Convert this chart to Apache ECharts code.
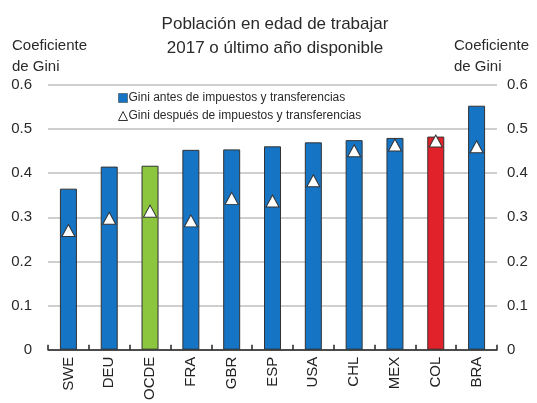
<!DOCTYPE html>
<html>
<head>
<meta charset="utf-8">
<script src="https://cdn.jsdelivr.net/npm/echarts@6/dist/echarts.min.js"></script>
<style>
html,body{margin:0;padding:0;background:#fff;}
#chart{width:537px;height:403px;}
</style>
</head>
<body>
<div id="chart"></div>
<script>
var categories = ['SWE','DEU','OCDE','FRA','GBR','ESP','USA','CHL','MEX','COL','BRA'];
var giniBefore = [0.365,0.415,0.417,0.453,0.454,0.461,0.470,0.475,0.480,0.483,0.553];
var giniAfter = [0.270,0.298,0.314,0.292,0.343,0.337,0.383,0.451,0.464,0.473,0.460];
var yTicks = [0,0.1,0.2,0.3,0.4,0.5,0.6];

var BLUE = '#1574c4', GREEN = '#8cc63e', RED = '#e1222a';
var font = 'Liberation Sans, Arial, sans-serif';

var chart = echarts.init(document.getElementById('chart'), null, {renderer:'canvas'});
function fmt(v){ return v === 0 ? '0' : String(Math.round(v*10)/10); }
var yAxisCommon = {
  type:'value', min:0, max:0.6, interval:0.1,
  axisLine:{show:false}, axisTick:{show:false},
  splitLine:{show:true, lineStyle:{color:'#cfcfcf', width:2}},
  axisLabel:{fontSize:15, color:'#2a2a2a', fontFamily:font, formatter:fmt}
};
chart.setOption({
  animation:false,
  backgroundColor:'#fff',
  title:{
    text:'Población en edad de trabajar\n2017 o último año disponible',
    left:270, top:7, textAlign:'center',
    textStyle:{fontSize:17, fontWeight:'normal', color:'#2a2a2a', fontFamily:font, lineHeight:24}
  },
  graphic:[
    {type:'text', left:12, top:35, style:{text:'Coeficiente\nde Gini', fontSize:15, lineHeight:21, fill:'#2a2a2a', fontFamily:font, align:'left'}},
    {type:'text', right:8, top:35, style:{text:'Coeficiente\nde Gini', fontSize:15, lineHeight:21, fill:'#2a2a2a', fontFamily:font, align:'right'}}
  ],
  legend:{
    orient:'vertical', left:113, top:87, itemGap:6, itemWidth:9, itemHeight:9,
    textStyle:{fontSize:12, color:'#2a2a2a', fontFamily:font, padding:[0,0,0,-4]},
    data:[
      {name:'Gini antes de impuestos y transferencias', icon:'rect', itemStyle:{color:BLUE, borderColor:'#333', borderWidth:0.5, opacity:1}},
      {name:'Gini después de impuestos y transferencias', icon:'triangle', itemStyle:{color:'#fff', borderColor:'#333', borderWidth:1, opacity:1}}
    ]
  },
  grid:{left:48, right:40, top:85, bottom:42, containLabel:false},
  xAxis:{
    type:'category', data:categories, boundaryGap:true,
    axisLine:{show:true, lineStyle:{color:'#222', width:1.5}},
    axisTick:{show:true, inside:true, length:5, lineStyle:{color:'#222', width:1.5}},
    axisLabel:{rotate:90, fontSize:15, color:'#222', fontFamily:font, margin:7, interval:0}
  },
  yAxis:[
    Object.assign({}, yAxisCommon, {position:'left', axisLabel:Object.assign({}, yAxisCommon.axisLabel, {margin:16})}),
    Object.assign({}, yAxisCommon, {position:'right', splitLine:{show:false}, axisLabel:Object.assign({}, yAxisCommon.axisLabel, {margin:10})})
  ],
  series:[
    {
      name:'Gini antes de impuestos y transferencias', type:'bar', data:giniBefore, barWidth:17,
      itemStyle:{
        borderColor:'#333', borderWidth:1, opacity:1,
        color:function(p){ return p.name==='OCDE' ? GREEN : (p.name==='COL' ? RED : BLUE); }
      }
    },
    {
      name:'Gini después de impuestos y transferencias', type:'scatter', data:giniAfter,
      symbol:'triangle', symbolSize:[13,12], z:5,
      itemStyle:{color:'#ffffff', borderColor:'#333', borderWidth:1, opacity:1}
    }
  ]
});
</script>
</body>
</html>
